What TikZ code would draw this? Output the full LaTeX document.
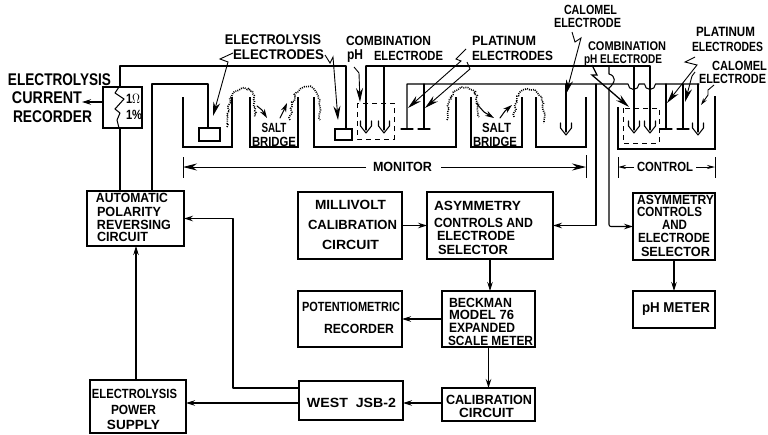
\documentclass[tikz,border=0pt]{standalone}
\usepackage{fontspec}
\setmainfont{Liberation Sans}
\usetikzlibrary{arrows.meta,decorations.pathmorphing}
\newcommand{\T}[6]{\node[lbl] (#1) at (#2,#3) {\resizebox{#4pt}{\dimexpr#5pt+.8pt\relax}{\bfseries #6}};}
\newcommand{\Uel}[3]{\draw[wire] (#1,#2) -- (#1,#3);
  \draw[wire] (#1-5.5,#3-9) -- (#1-5.5,#3-4) -- (#1,#3+3) -- (#1+5.5,#3-4) -- (#1+5.5,#3-9);}
\tikzset{
  x=1pt,y=-1pt,
  wire/.style={line width=1.05pt,line cap=round,line join=round},
  thin wire/.style={line width=0.9pt},
  arr/.style={wire,-{Stealth[length=9pt,width=5.5pt]}},
  larr/.style={line width=.9pt,-{Stealth[length=14pt,width=7pt]}},
  blk/.style={draw,line width=1.15pt,inner sep=0pt,outer sep=0pt},
  lbl/.style={inner sep=0pt,outer sep=0pt},
  cell/.style={line width=1.1pt,line join=miter},
  bridge/.style={line width=1.6pt,dash pattern=on 1pt off 1.1pt,
     decorate,decoration={random steps,segment length=2.2pt,amplitude=1.3pt}},
  dashbox/.style={line width=1pt,dash pattern=on 5pt off 4pt},
}
\begin{document}
\begin{tikzpicture}
\useasboundingbox (0,0) rectangle (768,434);
% boxes
\node[blk,minimum width=39pt,minimum height=41pt] (rec) at (122.5,107.5) {};
\node[blk,minimum width=97pt,minimum height=55pt] (auto) at (135.5,218.5) {};
\node[blk,minimum width=96pt,minimum height=53pt] (power) at (138,406.5) {};
\node[blk,minimum width=104pt,minimum height=39pt] (west) at (351,400.5) {};
\node[blk,minimum width=93pt,minimum height=33pt] (cal) at (488.5,404.5) {};
\node[blk,minimum width=93pt,minimum height=56pt] (beck) at (488.5,319) {};
\node[blk,minimum width=104pt,minimum height=56pt] (pot) at (350,319) {};
\node[blk,minimum width=104pt,minimum height=67pt] (mv) at (350,225.5) {};
\node[blk,minimum width=126pt,minimum height=67pt] (as) at (490,225.5) {};
\node[blk,minimum width=82pt,minimum height=67pt] (cas) at (674,226.5) {};
\node[blk,minimum width=82pt,minimum height=37pt] (phm) at (674,309.5) {};
\node[blk,minimum width=21pt,minimum height=13pt] (ea) at (209.5,134.5) {};
\node[blk,minimum width=17pt,minimum height=11pt] (eb) at (343.5,134.5) {};
% block texts
\T{t1}{59.5}{80}{103}{11}{ELECTROLYSIS}
\T{t2}{47}{98}{70}{11}{CURRENT}
\T{t3}{52.5}{117}{79}{11}{RECORDER}
\T{t4}{132}{198}{72}{8.5}{AUTOMATIC}
\T{t5}{129}{212}{64}{8.5}{POLARITY}
\T{t6}{134}{225}{74}{8.5}{REVERSING}
\T{t7}{122.5}{237}{51}{8.5}{CIRCUIT}
\T{t8}{134.5}{394}{85}{8.5}{ELECTROLYSIS}
\T{t9}{133.5}{410}{45}{8.5}{POWER}
\T{t10}{133.5}{425}{53}{8.5}{SUPPLY}
\T{t11}{350.5}{205}{71}{8.5}{MILLIVOLT}
\T{t12}{352.5}{224.5}{89}{8.5}{CALIBRATION}
\T{t13}{350.5}{245}{57}{8.5}{CIRCUIT}
\T{t14}{351}{307}{98}{8.5}{POTENTIOMETRIC}
\T{t15}{359}{329}{70}{8.5}{RECORDER}
\T{t16}{351.5}{403}{89}{8.5}{WEST\ \ JSB-2}
\T{t17}{477.5}{206}{87}{8.5}{ASYMMETRY}
\T{t18}{483.5}{223}{99}{8.5}{CONTROLS AND}
\T{t19}{476}{236}{78}{8.5}{ELECTRODE}
\T{t20}{473}{250}{70}{8.5}{SELECTOR}
\T{t21}{675.5}{200}{77}{8.5}{ASYMMETRY}
\T{t22}{669.5}{212}{65}{8.5}{CONTROLS}
\T{t23}{674.5}{225}{25}{8.5}{AND}
\T{t24}{674}{238}{72}{8.5}{ELECTRODE}
\T{t25}{675.5}{252}{69}{8.5}{SELECTOR}
\T{t26}{676}{309}{68}{9}{pH METER}
\T{t27}{480.5}{303}{63}{8.5}{BECKMAN}
\T{t28}{481.5}{315}{65}{8.5}{MODEL 76}
\T{t29}{482}{328}{66}{8.5}{EXPANDED}
\T{t30}{490.5}{341}{85}{8.5}{SCALE METER}
\T{t31}{489}{400}{86}{8.5}{CALIBRATION}
\T{t32}{486.5}{413}{55}{8.5}{CIRCUIT}
% top labels
\T{t33}{273}{40}{96}{9}{ELECTROLYSIS}
\T{t34}{278.5}{55}{91}{9}{ELECTRODES}
\T{t35}{388.5}{41}{85}{8.5}{COMBINATION}
\T{t36}{355}{56}{16}{9}{pH}
\T{t37}{408.5}{56}{69}{8.5}{ELECTRODE}
\T{t38}{504}{41}{64}{8.5}{PLATINUM}
\T{t39}{512.5}{56}{81}{8.5}{ELECTRODES}
\T{t40}{590.5}{10}{53}{8.5}{CALOMEL}
\T{t41}{587.5}{23}{67}{8.5}{ELECTRODE}
\T{t42}{627}{46}{78}{8}{COMBINATION}
\T{t43}{623}{60}{78}{8}{pH ELECTRODE}
\T{t44}{725.5}{32}{59}{8.5}{PLATINUM}
\T{t45}{727.5}{47}{71}{8.5}{ELECTRODES}
\T{t46}{739.5}{66}{55}{8.5}{CALOMEL}
\T{t47}{732.5}{79}{67}{8.5}{ELECTRODE}
\T{t48}{274}{128}{25}{8.5}{SALT}
\T{t49}{274}{141.5}{44}{8.5}{BRIDGE}
\T{t50}{496.5}{128}{29}{8.5}{SALT}
\T{t51}{495}{142}{44}{8.5}{BRIDGE}
\T{t52}{402.5}{167}{59}{8.5}{MONITOR}
\T{t53}{665}{167}{56}{8.5}{CONTROL}
\T{t54}{133}{99}{14}{8.5}{1$\Omega$}
\T{t55}{134}{115}{16}{8.5}{1\%}
% wires
\coordinate (wa) at (120,66);
\coordinate (wb) at (152,84);
\draw[wire] (rec.north -| wa) -- (wa) -- (346,66) -- (346,129);
\draw[wire] (rec.south -| wa) -- (auto.north -| wa);
\draw[wire] (auto.north -| wb) -- (wb) -- (208,84) -- (208,128);
\draw[wire] (366,66) -- (650,66);
\draw[wire] (407,129) -- (407,84) -- (628,84) arc[start angle=180,end angle=0,radius=5.5] -- (644.5,84) arc[start angle=180,end angle=0,radius=5.5] -- (699,84);
\draw[wire] (424,84) -- (424,129);
\draw[wire] (401,129) -- (413,129);
\draw[wire] (418,129) -- (430,129);
\draw[wire] (666,84) -- (666,129) (660,129) -- (672,129);
\draw[wire] (683,84) -- (683,129) (677,129) -- (689,129);
\Uel{366}{66}{130}
\Uel{384}{66}{130}
\Uel{566}{84}{132}
\Uel{634}{66}{130}
\Uel{650}{66}{130}
\Uel{698}{84}{132}
% resistor in recorder
\draw[wire] (119,87) -- (115,93) -- (124,99) -- (115,109) -- (120,113) -- (117,120) -- (119,128);
% dashed boxes
\draw[dashbox] (357,103) rectangle (394,139);
\draw[dashbox] (623,108) rectangle (659,143);
% cells
\draw[cell] (183,97) -- (183,147) -- (232,147) -- (232,97);
\draw[cell] (250,97) -- (250,147) -- (298,147) -- (298,97);
\draw[cell] (314,97) -- (314,147) -- (456,147) -- (456,97);
\draw[cell] (471,97) -- (471,147) -- (522,147) -- (522,97);
\draw[cell] (536,97) -- (536,147) -- (586,147) -- (586,97);
\draw[cell] (618,107) -- (618,149) -- (715,149) -- (715,96);
% salt bridges
\draw[bridge] (227,127) .. controls (229,105) and (229,90) .. (243,88) .. controls (254,88) and (254,95) .. (255,117);
\draw[bridge] (290,120) .. controls (292,103) and (294,88) .. (307,87) .. controls (319,88) and (320,95) .. (320,120);
\draw[bridge] (447,120) .. controls (448,103) and (450,89) .. (464,88) .. controls (476,89) and (478,97) .. (479,117);
\draw[bridge] (514,117) .. controls (516,100) and (518,89) .. (527,89) .. controls (541,90) and (544,100) .. (544,123);
% bridge pointers
\draw[arr] (257,106) -- (262,110) -- (267,118);
\draw[arr] (280,118) -- (284,110) -- (287,103);
\draw[arr] (476,103) -- (484,112) -- (494,118);
\draw[arr] (500,118) -- (505,111) -- (512,105);
% left-side connectors
\draw[arr] (rec.west |- 0,102) -- (82,102);
\draw[arr] (power.north -| 136,0) -- (auto.south -| 136,0);
\coordinate (wj) at (299,403);
\draw[arr] (wj) -- (wj -| power.east);
\coordinate (wk) at (299,388);
\draw[arr] (wk) -- (233,388) -- (233,218.5) -- (auto.east);
\draw[arr] (mv.east) -- (as.west);
\draw[arr] (as.south) -- (as.south |- beck.north);
\draw[arr] (beck.west) -- (pot.east);
\draw[arr] (beck.south) -- (cal.north);
\draw[arr] (cal.west |- wj) -- (wj -| west.east);
\coordinate (wc) at (596,84);
\draw[arr] (wc) -- (596,225.5) -- (as.east);
\coordinate (wd) at (609,66);
\draw[wire] (wd) -- (609,74) .. controls (616,76) and (616,82) .. (609,88);
\draw[arr,rounded corners=2pt] (609,88) -- (609,226.5) -- (cas.west);
\draw[arr] (cas.south) -- (phm.north);
% dimension lines
\draw[thin wire] (183,157) -- (183,178) (586,155) -- (586,178);
\draw[thin wire] (618,157) -- (618,178) (715,157) -- (715,178);
\draw[larr] (366,167) -- (183,167);
\draw[larr] (441,167) -- (586,167);
\draw[thin wire,-{Stealth[length=8pt,width=4pt]}] (634,167) -- (618,167);
\draw[thin wire,-{Stealth[length=8pt,width=4pt]}] (696,167) -- (715,167);
% label pointers
\draw[larr] (233,53) -- (220,59) -- (228,62) -- (213,116);
\draw[larr] (325,55) -- (330,63) -- (333,57) -- (338,120);
\draw[larr] (354,67) -- (359,73) -- (360,102);
\draw[larr] (466,49) -- (456,59) -- (461,61) -- (408,108);
\draw[larr] (467,62) -- (470,69) -- (425,108);
\draw[larr] (572,32) -- (575,42) -- (581,38) -- (566,94);
\draw[larr,line width=1.3pt] (592,65) -- (597,75) -- (592,75) -- (629,107);
\draw[larr] (695,57) -- (685,62) -- (697,65) -- (667,103);
\draw[larr] (695,72) -- (692,76) -- (685,102);
\draw[thin wire,-{Stealth[length=7pt,width=4pt]}] (714,85) -- (708,90) -- (708,95) -- (701,105);
\end{tikzpicture}
\end{document}
